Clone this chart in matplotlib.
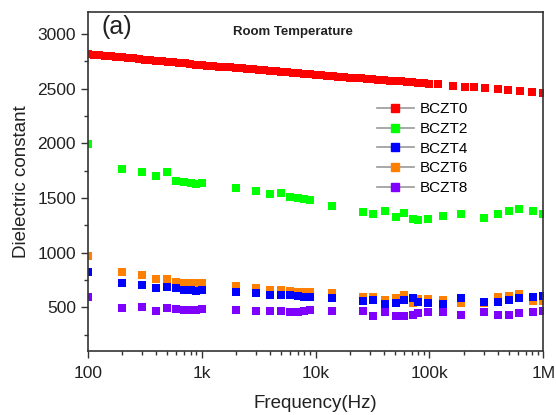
import matplotlib
matplotlib.use("Agg")
import matplotlib.pyplot as plt
from matplotlib.lines import Line2D
from matplotlib.ticker import LogLocator, MultipleLocator, NullFormatter
import numpy as np

plt.rcParams['font.family'] = ['Liberation Sans', 'DejaVu Sans']

# sparse frequency points (Hz) used for BCZT2..BCZT8
freq = [100, 200, 300, 400, 500, 600, 700, 800, 900, 1000,
        2000, 3000, 4000, 5000, 6000, 7000, 8000, 9000, 14000,
        26000, 32000, 41000, 51000, 60000, 72000, 80000, 98000,
        133000, 190000, 300000, 400000, 500000, 610000, 815000, 1000000]

bczt2 = [1990, 1764, 1736, 1700, 1736, 1655, 1645, 1636, 1627, 1640,
         1590, 1564, 1536, 1545, 1509, 1500, 1490, 1482, 1427,
         1373, 1355, 1382, 1327, 1364, 1309, 1300, 1309,
         1336, 1355, 1318, 1355, 1382, 1400, 1382, 1355]

bczt4 = [827, 718, 700, 673, 682, 673, 655, 655, 645, 655,
         636, 627, 609, 609, 609, 600, 591, 591, 582,
         555, 564, 527, 536, 564, 582, 545, 536,
         527, 582, 545, 545, 564, 582, 591, 600]

bczt6 = [970, 827, 800, 755, 755, 736, 727, 718, 718, 727,
         691, 673, 655, 655, 645, 636, 636, 636, 627,
         591, 595, 564, 582, 609, 536, 573, 573,
         564, 536, 540, 591, 600, 618, 555, 555]

bczt8 = [591, 491, 500, 464, 491, 482, 473, 473, 473, 482,
         473, 464, 464, 464, 455, 455, 464, 473, 464,
         464, 418, 455, 418, 418, 427, 445, 455,
         455, 427, 455, 427, 427, 445, 455, 464]

# BCZT0: dense sweep (20 pts/decade) up to 100k, then sparser points
freq0_dense = np.logspace(2, 5, 61)
bczt0_dense = [2815, 2810, 2805, 2800, 2795, 2790, 2785, 2781, 2776, 2771,
               2766, 2761, 2756, 2751, 2746, 2742, 2738, 2730, 2726, 2720,
               2716, 2711, 2706, 2702, 2697, 2693, 2688, 2684, 2679, 2675,
               2670, 2666, 2661, 2657, 2652, 2648, 2643, 2639, 2634, 2630,
               2625, 2621, 2617, 2613, 2609, 2605, 2601, 2597, 2593, 2589,
               2585, 2581, 2577, 2573, 2569, 2565, 2561, 2557, 2553, 2549,
               2545]
freq0_sparse = [120000, 160000, 205000, 245000, 310000, 400000,
                490000, 620000, 790000, 1000000]
bczt0_sparse = [2538, 2528, 2519, 2511, 2502, 2492, 2484, 2475, 2465, 2456]

labels = ['BCZT0', 'BCZT2', 'BCZT4', 'BCZT6', 'BCZT8']
colors = ['#ff0000', '#00ff00', '#0000ff', '#ff8000', '#8000ff']

fig = plt.figure(figsize=(5.56, 4.15), dpi=100)
ax = fig.add_axes([0.158, 0.154, 0.819, 0.817])

ms = 5.8
ax.plot(freq0_dense, bczt0_dense, 's', color=colors[0], ms=ms, mew=0)
ax.plot(freq0_sparse, bczt0_sparse, 's', color=colors[0], ms=ms, mew=0)
# orange drawn before blue so blue sits on top where they overlap
for vals, c in zip([bczt2, bczt6, bczt4, bczt8], [colors[1], colors[3], colors[2], colors[4]]):
    ax.plot(freq, vals, 's', color=c, ms=ms, mew=0)

ax.set_xscale('log')
ax.set_xlim(100, 1e6)
ax.set_ylim(100, 3200)

ax.xaxis.set_minor_locator(LogLocator(base=10, subs=np.arange(2, 10), numticks=100))
ax.xaxis.set_minor_formatter(NullFormatter())
ax.set_xticks([100, 1e3, 1e4, 1e5, 1e6])
ax.set_xticklabels(['100', '1k', '10k', '100k', '1M'])
ax.yaxis.set_major_locator(MultipleLocator(500))
ax.yaxis.set_minor_locator(MultipleLocator(250))

ax.tick_params(which='both', direction='out', top=False, right=False,
               labelsize=12.5, color='#333333', labelcolor='#222222')
ax.tick_params(axis='x', pad=6)
ax.tick_params(which='major', length=5, width=1)
ax.tick_params(which='minor', length=3, width=1)
for s in ax.spines.values():
    s.set_color('#333333')
    s.set_linewidth(1.2)

ax.set_xlabel('Frequency(Hz)', fontsize=13.5, color='#222222', labelpad=10)
ax.set_ylabel('Dielectric constant', fontsize=13.5, color='#222222', labelpad=5)

ax.text(0.03, 0.955, '(a)', transform=ax.transAxes, fontsize=18,
        va='center', ha='left', color='#222222')
ax.text(0.45, 0.94, 'Room Temperature', transform=ax.transAxes, fontsize=9.5,
        fontweight='bold', va='center', ha='center', color='#222222')

handles = [Line2D([], [], color='#999999', lw=1.2, marker='s', ms=5.5,
                  markerfacecolor=c, markeredgecolor=c) for c in colors]
ax.legend(handles, labels, loc='upper left', bbox_to_anchor=(0.605, 0.775),
          frameon=False, fontsize=11, handlelength=2.4, labelspacing=0.38,
          handletextpad=0.4)

fig.savefig('out.png', dpi=100)
